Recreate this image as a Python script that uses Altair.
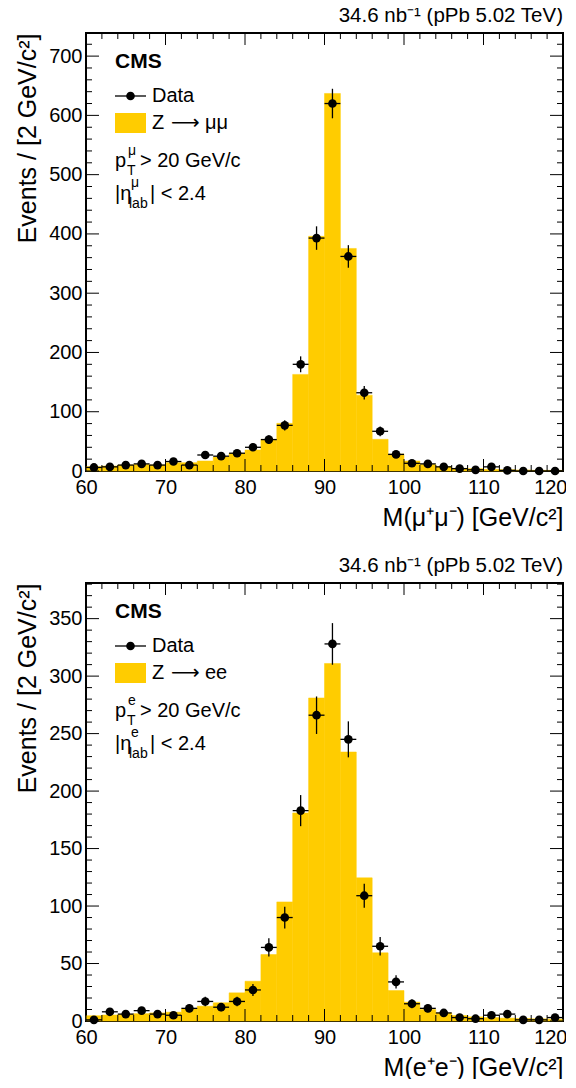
import altair as alt
import pandas as pd

FONT = "Liberation Sans"
W, H = 477, 438
YELLOW = "#FFCC00"

# bin lower edges (2 GeV bins, 60-120)
bin_lo = [60, 62, 64, 66, 68, 70, 72, 74, 76, 78, 80, 82, 84, 86, 88,
          90, 92, 94, 96, 98, 100, 102, 104, 106, 108, 110, 112, 114, 116, 118]

# Z -> mu mu
mm_data = [6, 7, 10, 12, 10, 16, 10, 27, 25, 30, 40, 53, 77, 180, 393,
           620, 362, 132, 67, 28, 13, 12, 7, 4, 2, 7, 1, 0, 0, 0]
mm_mc = [7.3, 8.4, 10.1, 11.2, 10.1, 14, 14, 16.9, 23.6, 29.8, 35.4, 53.4, 80.4, 163, 396,
         637, 375.5, 128, 53.5, 28.7, 16.9, 11.2, 7.3, 4.5, 4, 2.8, 2.2, 1.7, 1.1, 1.1]

# Z -> e e
ee_data = [1, 8, 6, 9, 6, 5, 11, 17, 12, 17, 27, 64, 90, 183, 266,
           328, 245, 109, 65, 34, 15, 11, 7, 3, 2, 5, 6, 1, 1, 3]
ee_mc = [4.6, 5.2, 5.8, 6.4, 7, 7.7, 10.6, 12.9, 15.8, 24.5, 34.6, 57.8, 103.6, 181, 281,
         311, 234, 124.5, 59.3, 26.5, 16.4, 10, 7, 4.8, 3.6, 3, 2.5, 2.2, 1.9, 1.6]

x_major = [60, 70, 80, 90, 100, 110, 120]
x_minor = [v for v in range(60, 121, 2) if v % 10]
mm_y_major = [0, 100, 200, 300, 400, 500, 600, 700]
mm_y_minor = [v for v in range(0, 739, 20) if v % 100]
ee_y_major = [0, 50, 100, 150, 200, 250, 300, 350]
ee_y_minor = [v for v in range(0, 381, 10) if v % 50]

LUMI = "34.6 nb\u207b\u00b9 (pPb 5.02 TeV)"
YTITLE = "Events / [2 GeV/c\u00b2]"


def txt(t, x, y, size, weight="normal", font=FONT):
    return alt.Chart(pd.DataFrame({"t": [t]})).mark_text(
        align="left", baseline="alphabetic", fontSize=size, fontWeight=weight,
        font=font, color="black"
    ).encode(x=alt.value(x), y=alt.value(y), text="t:N")


def panel(data, mc, ymax, ymaj, ymin, xtitle, particles, sup):
    df = pd.DataFrame({
        "lo": bin_lo,
        "hi": [b + 2 for b in bin_lo],
        "c": [b + 1 for b in bin_lo],
        "n": data,
        "mc": mc,
    })
    xs = alt.Scale(domain=[60, 120], nice=False, zero=False)
    ys = alt.Scale(domain=[0, ymax], nice=False, zero=False)
    xaxis = alt.Axis(
        values=x_major, title=xtitle, titleAnchor="end", titleAlign="right",
        labelFlush=False, labelOverlap=False, labelPadding=6, titlePadding=8,
        format="d",
        labelAlign={"condition": {"test": "datum.value == 120", "value": "right"}, "value": "center"},
        labelOffset={"condition": {"test": "datum.value == 120", "value": 4}, "value": 0},
    )
    yaxis = alt.Axis(values=ymaj, title=YTITLE, titleAnchor="end", titleAlign="right",
                     labelFlush=False, labelOverlap=False, labelPadding=4, titlePadding=8,
                     format="d")

    def X(f):
        return alt.X(f, scale=xs, axis=xaxis)

    def Y(f):
        return alt.Y(f, scale=ys, axis=yaxis)

    base = alt.Chart(df)
    hist = base.mark_rect(color=YELLOW, stroke=YELLOW, strokeWidth=0.5).encode(
        x=X("lo:Q"), x2="hi:Q", y=Y("mc:Q"), y2=alt.datum(0))
    vbar = base.transform_calculate(
        elo="datum.n - sqrt(datum.n)", ehi="datum.n + sqrt(datum.n)"
    ).mark_rule(color="black", strokeWidth=1.3).encode(
        x=X("c:Q"), y=Y("elo:Q"), y2="ehi:Q")
    hbar = base.mark_rule(color="black", strokeWidth=1.3).encode(
        x=X("lo:Q"), x2="hi:Q", y=Y("n:Q"))
    pts = base.mark_circle(size=75, color="black", opacity=1).encode(
        x=X("c:Q"), y=Y("n:Q"))

    ticks = []
    for vals, L in ((x_major, 12), (x_minor, 6)):
        d = alt.Chart(pd.DataFrame({"v": vals})).mark_rule(color="black", strokeWidth=1)
        ticks.append(d.encode(x=X("v:Q"), y=alt.value(H), y2=alt.value(H - L)))
        ticks.append(d.encode(x=X("v:Q"), y=alt.value(0), y2=alt.value(L)))
    for vals, L in ((ymaj, 13), (ymin, 6)):
        d = alt.Chart(pd.DataFrame({"v": vals})).mark_rule(color="black", strokeWidth=1)
        ticks.append(d.encode(y=Y("v:Q"), x=alt.value(0), x2=alt.value(L)))
        ticks.append(d.encode(y=Y("v:Q"), x=alt.value(W), x2=alt.value(W - L)))

    one = alt.Chart(pd.DataFrame({"k": [0]}))
    leg_line = one.mark_rule(color="black", strokeWidth=1.3).encode(
        x=alt.value(29), x2=alt.value(60), y=alt.value(63))
    leg_dot = one.mark_circle(size=75, color="black", opacity=1).encode(
        x=alt.value(44.5), y=alt.value(63))
    leg_box = one.mark_rect(color=YELLOW).encode(
        x=alt.value(29), x2=alt.value(60), y=alt.value(80), y2=alt.value(100))

    texts = [
        txt("CMS", 29, 35, 21, "bold"),
        txt("Data", 66, 69, 20),
        txt("Z", 66, 96, 20),
        txt("\u27f6", 85, 96, 20, font="DejaVu Sans"),
        txt(particles, 119, 96, 20),
        txt("p", 29, 134, 20),
        txt(sup, 42, 122, 14),
        txt("T", 41, 142, 14),
        txt("> 20 GeV/c", 54, 134, 20),
        txt("|\u03b7", 29, 167, 20),
        txt(sup, 45, 154, 14),
        txt("lab", 43, 175, 14),
        txt("| < 2.4", 64, 167, 20),
    ]

    return alt.layer(hist, vbar, hbar, pts, *ticks, leg_line, leg_dot, leg_box, *texts).properties(
        width=W, height=H,
        title=alt.TitleParams(LUMI, anchor="end", frame="group", fontSize=20.5, fontWeight="normal",
                              font=FONT, color="black", offset=6),
    )


top = panel(mm_data, mm_mc, 739, mm_y_major, mm_y_minor,
            "M(\u03bc\u207a\u03bc\u207b) [GeV/c\u00b2]", "\u03bc\u03bc", "\u03bc")
bottom = panel(ee_data, ee_mc, 381, ee_y_major, ee_y_minor,
               "M(e\u207ae\u207b) [GeV/c\u00b2]", "ee", "e")

chart = alt.vconcat(top, bottom, spacing=24).properties(
    padding={"left": 6, "top": -3, "right": -2, "bottom": -2}
).configure(
    font=FONT
).configure_view(
    stroke="black", strokeWidth=2
).configure_axis(
    ticks=False, domain=False, grid=False,
    labelFont=FONT, labelFontSize=20, labelColor="black",
    titleFont=FONT, titleFontSize=25, titleFontWeight="normal", titleColor="black",
)

chart.save("out.html", embed_options={"renderer": "svg", "actions": False})
